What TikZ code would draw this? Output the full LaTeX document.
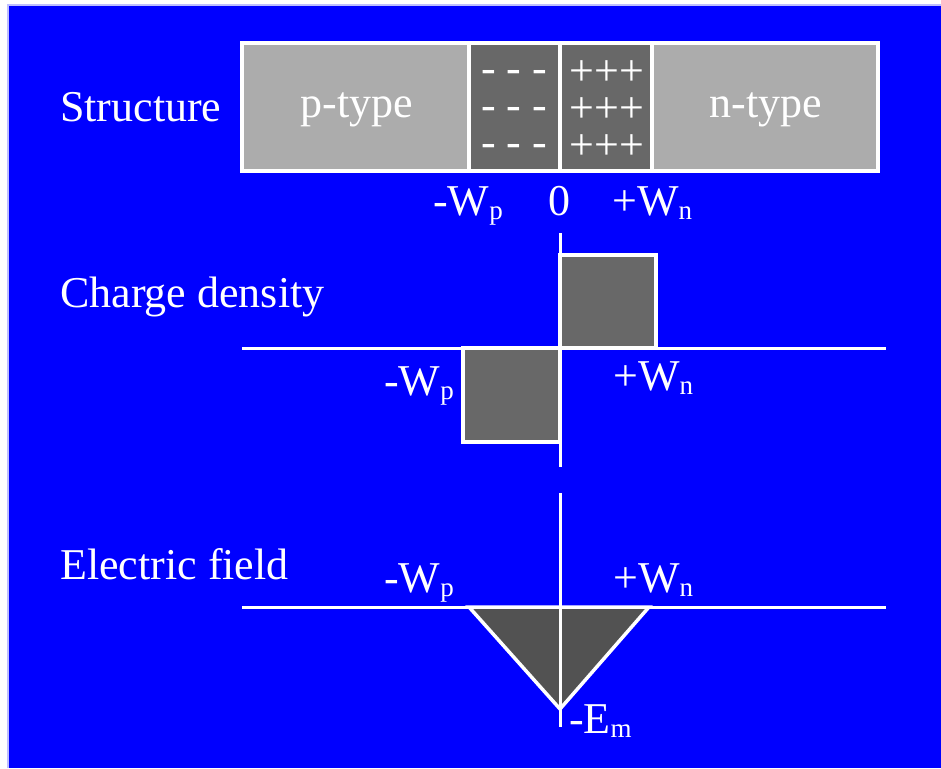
\documentclass[tikz,border=0pt]{standalone}
\usepackage{fontspec}
\setmainfont{Liberation Serif}
\newcommand\subtxt[1]{\raisebox{-4pt}{\fontsize{27}{27}\selectfont #1}}
\definecolor{bgblue}{RGB}{0,0,255}
\definecolor{lightgr}{RGB}{172,172,172}
\definecolor{darkgr}{RGB}{104,104,104}
\definecolor{trigr}{RGB}{82,82,82}
\definecolor{edgelav}{RGB}{190,190,255}
\begin{document}
\begin{tikzpicture}[x=1pt,y=-1pt,
  lbl/.style={text=white,font=\fontsize{44}{48}\selectfont,inner sep=0pt},
  chg/.style={text=white,font=\fontsize{44}{37}\selectfont,inner sep=0pt,align=center},
  wline/.style={draw=white,line width=3.5pt},
  axisline/.style={draw=white,line width=3pt},
]
\useasboundingbox (0,0) rectangle (941,768);
\fill[white] (0,0) rectangle (941,768);
\fill[bgblue] (8,5) rectangle (941,768);
\draw[edgelav,line width=1.5pt] (8,768) -- (8,5) -- (941,5);

% ---------- Structure ----------
\path[wline,fill=lightgr] (242,43) rectangle (878,171);
\path[wline,fill=darkgr] (469,43) rectangle (652,171);
\draw[wline] (560,43) -- (560,171);

\node[lbl,anchor=base west] (structure) at (60,121) {Structure};
\node[lbl,anchor=base] (ptype) at (357,117) {p-type};
\node[lbl,anchor=base] (ntype) at (766,117) {n-type};

\node[chg,anchor=center] (neg) at (514,113) {- - -\\- - -\\- - -};
\node[chg,anchor=center] (pos) at (607,110) {+++\\+++\\+++};

\node[lbl,anchor=base west] (swp) at (433,215) {-W\subtxt{p}};
\node[lbl,anchor=base] (szero) at (559,215) {0};
\node[lbl,anchor=base west] (swn) at (612,215) {+W\subtxt{n}};

% ---------- Charge density ----------
\node[lbl,anchor=base west] (charge) at (60,307) {Charge density};
\path[wline,fill=darkgr] (560,255) rectangle (656,348);
\path[wline,fill=darkgr] (463,348) rectangle (560,442);
\coordinate (cax1) at (560,233);
\coordinate (cax2) at (560,467);
\coordinate (chx1) at (242,348);
\coordinate (chx2) at (886,348);
\draw[axisline] (cax1) -- (cax2);
\draw[axisline] (chx1) -- (chx2);
\node[lbl,anchor=base west] (cwp) at (384,395) {-W\subtxt{p}};
\node[lbl,anchor=base west] (cwn) at (613,390) {+W\subtxt{n}};

% ---------- Electric field ----------
\node[lbl,anchor=base west] (efield) at (60,579) {Electric field};
\coordinate (tl) at (469,607);
\coordinate (tr) at (649,607);
\coordinate (tb) at (560,709);
\path[wline,fill=trigr,line join=miter] (tl) -- (tb) -- (tr) -- cycle;
\coordinate (eax1) at (560,493);
\coordinate (eax2) at (560,727);
\coordinate (ehx1) at (242,607);
\coordinate (ehx2) at (886,607);
\draw[axisline] (eax1) -- (eax2);
\draw[axisline] (ehx1) -- (ehx2);
\node[lbl,anchor=base west] (ewp) at (384,592) {-W\subtxt{p}};
\node[lbl,anchor=base west] (ewn) at (613,592) {+W\subtxt{n}};
\node[lbl,anchor=base west] (em) at (569,733) {-E\subtxt{m}};
\end{tikzpicture}
\end{document}
